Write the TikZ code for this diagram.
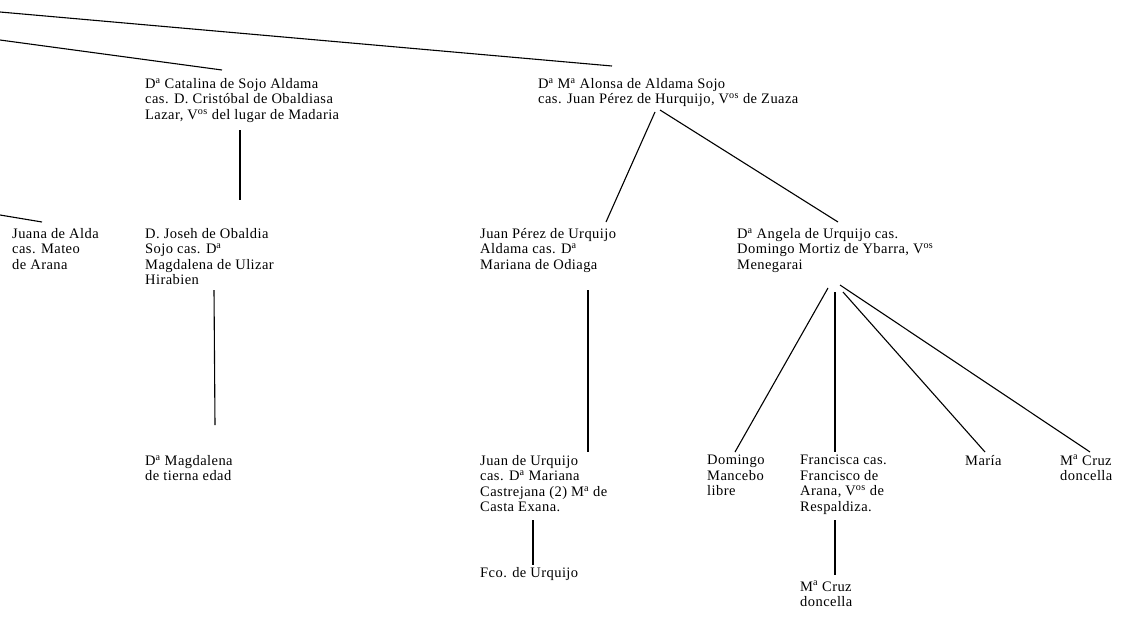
\documentclass[tikz,border=0pt]{standalone}
\usepackage{fontspec}
\setmainfont{Liberation Serif}[LetterSpace=3]
\usepackage{tikz}
\usetikzlibrary{positioning}

\tikzset{
	person/.style={anchor=north west, align=left, inner sep=0pt, font=\fontsize{14.5}{15.5}\selectfont},
	branch/.style={line width=1.1pt}
}
\newcommand{\sups}[1]{\textsuperscript{#1}}

\begin{document}
\begin{tikzpicture}[x=1pt, y=-1pt]
	        \useasboundingbox (0,0) rectangle (1130,624);
	        \coordinate (edgeA) at (0,12);
	        \coordinate (edgeB) at (0,40);
	        \coordinate (edgeC) at (0,215);
	        \node (catalina) [person] at (145,78) {D\sups{a} Catalina de Sojo Aldama\\cas. D. Cristóbal de Obaldiasa\\Lazar, V\sups{os} del lugar de Madaria};
	        \node (alonsa) [person] at (538,78) {D\sups{a} M\sups{a} Alonsa de Aldama Sojo\\cas. Juan Pérez de Hurquijo, V\sups{os} de Zuaza};
	        \node (juana) [person] at (12,228) {Juana de Alda\\cas. Mateo\\de Arana};
	        \node (joseh) [person] at (145,228) {D. Joseh de Obaldia\\Sojo cas. D\sups{a}\\Magdalena de Ulizar\\Hirabien};
	        \node (juanperez) [person] at (480,228) {Juan Pérez de Urquijo\\Aldama cas. D\sups{a}\\Mariana de Odiaga};
	        \node (angela) [person] at (737,228) {D\sups{a} Angela de Urquijo cas.\\Domingo Mortiz de Ybarra, V\sups{os}\\Menegarai};
	        \node (magdalena) [person] at (145,455) {D\sups{a} Magdalena\\de tierna edad};
	        \node (urquijo) [person] at (480,455) {Juan de Urquijo\\cas. D\sups{a} Mariana\\Castrejana (2) M\sups{a} de\\Casta Exana.};
	        \node (domingo) [person] at (707,455) {Domingo\\Mancebo\\libre};
	        \node (francisca) [person] at (800,455) {Francisca cas.\\Francisco de\\Arana, V\sups{os} de\\Respaldiza.};
	        \node (maria) [person] at (965,455) {María};
	        \node (mcruz) [person] at (1060,455) {M\sups{a} Cruz\\doncella};
	        \node (fco) [person] at (480,567) {Fco. de Urquijo};
	        \node (mcruzb) [person] at (800,581) {M\sups{a} Cruz\\doncella};
	        \draw[branch] (edgeA) -- ([shift={(74,-12)}]alonsa.north west);
	        \draw[branch] (edgeB) -- ([shift={(77,-8)}]catalina.north west);
	        \draw[branch] (edgeC) -- ([shift={(30,-6)}]juana.north west);
	        \draw[branch] ([shift={(95,52)}]catalina.north west) -- ([shift={(95,-28)}]joseh.north west);
	        \draw[branch] ([shift={(69,62)}]joseh.north west) -- ([shift={(70,-30)}]magdalena.north west);
	        \draw[branch] ([shift={(117,34)}]alonsa.north west) -- ([shift={(126,-6)}]juanperez.north west);
	        \draw[branch] ([shift={(122,32)}]alonsa.north west) -- ([shift={(101,-6)}]angela.north west);
	        \draw[branch] ([shift={(108,62)}]juanperez.north west) -- ([shift={(108,-3)}]urquijo.north west);
	        \draw[branch] ([shift={(53,65)}]urquijo.north west) -- ([shift={(53,-2)}]fco.north west);
	        \draw[branch] ([shift={(91,60)}]angela.north west) -- ([shift={(28,-3)}]domingo.north west);
	        \draw[branch] ([shift={(98,64)}]angela.north west) -- ([shift={(35,-3)}]francisca.north west);
	        \draw[branch] ([shift={(106,64)}]angela.north west) -- ([shift={(20,-3)}]maria.north west);
	        \draw[branch] ([shift={(103,57)}]angela.north west) -- ([shift={(30,-3)}]mcruz.north west);
	        \draw[branch] ([shift={(35,65)}]francisca.north west) -- ([shift={(35,-6)}]mcruzb.north west);
	     \end{tikzpicture}
\end{document}
